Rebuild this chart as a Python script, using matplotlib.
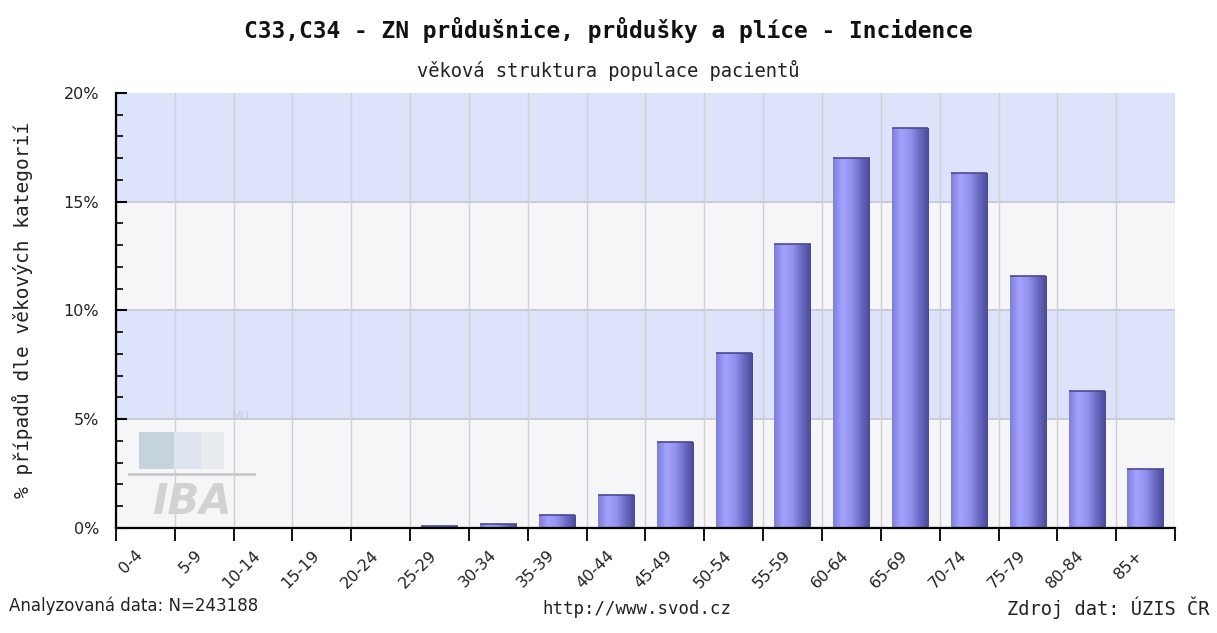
import numpy as np
import matplotlib
matplotlib.use('Agg')
import matplotlib.pyplot as plt
from matplotlib.colors import LinearSegmentedColormap
from matplotlib.transforms import ScaledTranslation
from matplotlib.patches import Rectangle

# vekove kategorie a podil pripadu (%)
age_groups = ['0-4', '5-9', '10-14', '15-19', '20-24', '25-29', '30-34', '35-39', '40-44',
              '45-49', '50-54', '55-59', '60-64', '65-69', '70-74', '75-79', '80-84', '85+']
share_pct = [0.0, 0.0, 0.0, 0.0, 0.02, 0.08, 0.2, 0.6, 1.52,
             3.97, 8.05, 13.06, 17.0, 18.4, 16.3, 11.6, 6.3, 2.7]
y_ticks = [0, 5, 10, 15, 20]
y_tick_labels = ['0%', '5%', '10%', '15%', '20%']

title = 'C33,C34 - ZN průdušnice, průdušky a plíce - Incidence'
subtitle = 'věková struktura populace pacientů'
ylabel = '% případů dle věkových kategorií'

plt.rcParams['font.family'] = ['DejaVu Sans']

fig = plt.figure(figsize=(12.17, 6.33), dpi=100)
fig.patch.set_facecolor('white')
ax = fig.add_axes([0.0953, 0.1659, 0.8702, 0.6872])

x = np.arange(len(age_groups))
ax.set_xlim(-0.5, len(age_groups) - 0.5)
ax.set_ylim(0, 20)

# pruhy pozadi
band_colors = ['#f6f6f8', '#dde3fa', '#f6f6f8', '#dde3fa']
for i, c in enumerate(band_colors):
    ax.axhspan(y_ticks[i], y_ticks[i + 1], color=c, zorder=0, lw=0)
for yv in y_ticks[1:-1]:
    ax.axhline(yv, color='#c4c6d0', lw=1.2, zorder=1)
for b in np.arange(len(age_groups) + 1) - 0.5:
    ax.axvline(b, color='#cfd0d6', lw=1.0, zorder=1)

# logo IBA (vodoznak)
ax.add_patch(Rectangle((0.022, 0.135), 0.033, 0.085, transform=ax.transAxes,
                       color='#c5d3dc', zorder=1.5, lw=0))
ax.add_patch(Rectangle((0.055, 0.135), 0.025, 0.085, transform=ax.transAxes,
                       color='#dde4ee', zorder=1.5, lw=0))
ax.add_patch(Rectangle((0.080, 0.135), 0.022, 0.085, transform=ax.transAxes,
                       color='#e8ebf0', zorder=1.5, lw=0))
ax.plot([0.012, 0.13], [0.125, 0.125], transform=ax.transAxes, color='#c8c8c8', lw=2, zorder=1.5)
ax.text(0.072, 0.012, 'IBA', transform=ax.transAxes, fontsize=30, fontweight='bold',
        style='italic', color='#d2d2d2', ha='center', va='bottom', zorder=1.5)
ax.text(0.118, 0.245, 'MU', transform=ax.transAxes, fontsize=8, color='#c8ccd8',
        ha='center', va='bottom', zorder=1.5)

# sloupce s prechodem barvy (valec)
bar_w = 0.62
bars = ax.bar(x, share_pct, width=bar_w, color='none', edgecolor='none', zorder=3)
cyl = LinearSegmentedColormap.from_list('cyl', ['#7e7ed8', '#a3a3ff', '#9393ee', '#6a6ac4', '#4a4a96'])
grad = np.linspace(0, 1, 256).reshape(1, -1)
for rect, v in zip(bars, share_pct):
    if v <= 0:
        continue
    x0 = rect.get_x()
    im = ax.imshow(grad, cmap=cyl, aspect='auto', extent=(x0, x0 + bar_w, 0, v),
                   zorder=3, interpolation='bicubic')
    im.set_clip_path(rect)
    ax.plot([x0, x0 + bar_w], [v, v], color='#4a4a90', lw=1.2, zorder=4, solid_capstyle='butt')
ax.set_xlim(-0.5, len(age_groups) - 0.5)
ax.set_ylim(0, 20)

# osy
for s in ['top', 'right']:
    ax.spines[s].set_visible(False)
ax.spines['left'].set_linewidth(1.6)
ax.spines['bottom'].set_linewidth(1.6)
ax.spines['left'].set_zorder(5)
ax.spines['bottom'].set_zorder(5)

ax.set_yticks(y_ticks)
ax.set_yticklabels(y_tick_labels, fontsize=11.5, color='#222222')
ax.set_yticks(np.arange(0, 21, 1), minor=True)
ax.tick_params(axis='y', which='major', direction='in', length=8, width=1.5, pad=12)
ax.tick_params(axis='y', which='minor', direction='in', length=5, width=1.2)

ax.set_xticks(np.arange(len(age_groups) + 1) - 0.5)
ax.set_xticklabels([])
ax.set_xticks(x, minor=True)
ax.set_xticklabels(age_groups, minor=True, rotation=45, ha='right', va='top',
                   rotation_mode='anchor', fontsize=11.5, color='#222222')
ax.tick_params(axis='x', which='major', direction='out', length=9, width=1.3)
ax.tick_params(axis='x', which='minor', length=0, pad=14)
shift = ScaledTranslation(-10 / 100, 0, fig.dpi_scale_trans)
for lbl in ax.get_xticklabels(minor=True):
    lbl.set_transform(lbl.get_transform() + shift)

ax.set_ylabel(ylabel, fontsize=14, family='DejaVu Sans Mono', color='#222222', labelpad=22)

# titulky a paticka
fig.text(0.4997, 0.953, title, ha='center', va='center', fontsize=16.5,
         family='DejaVu Sans Mono', fontweight='bold', color='#111111')
fig.text(0.4997, 0.888, subtitle, ha='center', va='center', fontsize=13.5,
         family='DejaVu Sans Mono', color='#222222')
fig.text(0.007, 0.043, 'Analyzovaná data: N=243188', ha='left', va='center',
         fontsize=12, color='#222222')
fig.text(0.523, 0.038, 'http://www.svod.cz', ha='center', va='center',
         fontsize=12.5, family='DejaVu Sans Mono', color='#222222')
fig.text(0.994, 0.040, 'Zdroj dat: ÚZIS ČR', ha='right', va='center',
         fontsize=13.5, family='DejaVu Sans Mono', color='#222222')

fig.savefig('out.png', dpi=100)
